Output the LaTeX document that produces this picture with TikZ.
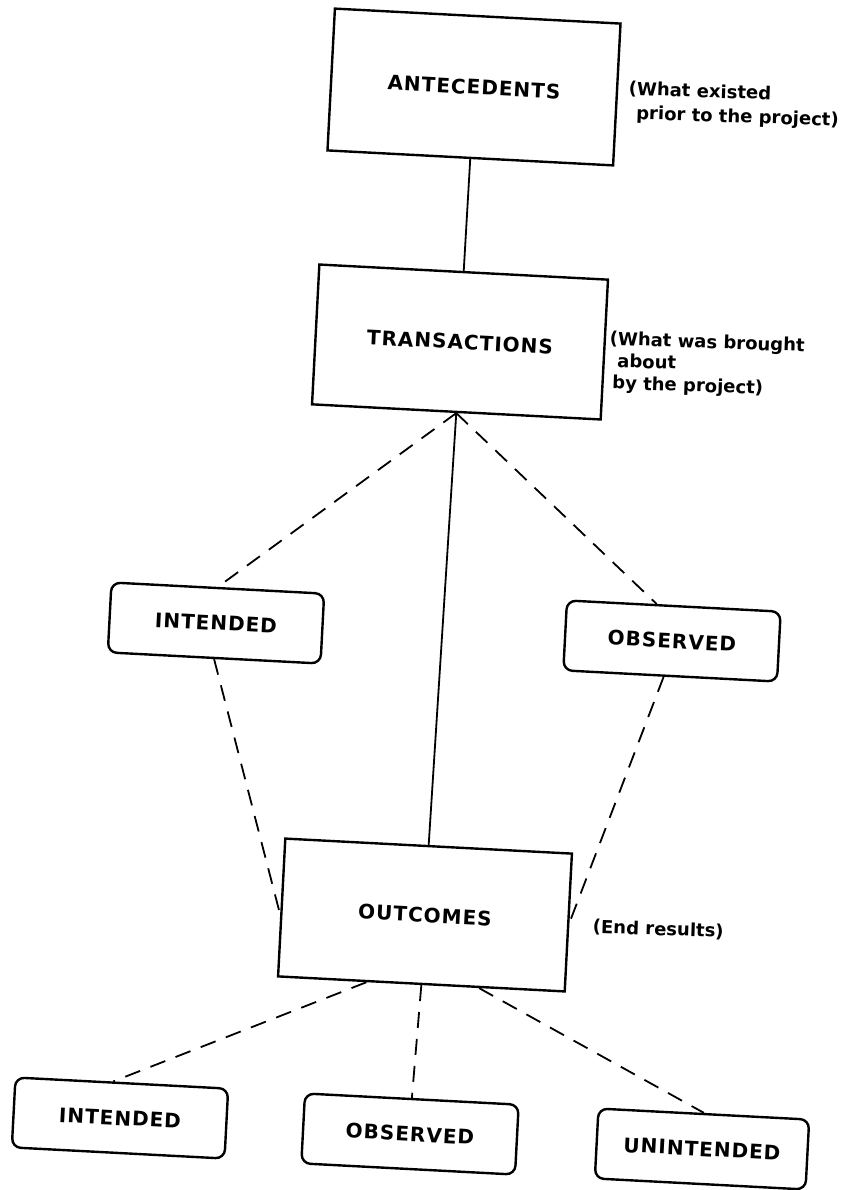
\documentclass[tikz,border=0pt]{standalone}
\usepackage{fontspec}
\setmainfont{DejaVu Sans}
\newfontfamily\boxfont[LetterSpace=5]{DejaVu Sans Bold}
\newfontfamily\notefont{DejaVu Sans Bold}
\usetikzlibrary{calc}
\begin{document}
\begin{tikzpicture}[x=1pt,y=-1pt,
  sqbox/.style={draw, line width=2.4pt, rotate=-3, inner sep=0pt,
    font=\boxfont\fontsize{20}{24}\selectfont},
  rbox/.style={sqbox, rounded corners=9pt, minimum height=70pt},
  dashline/.style={line width=1.8pt, dash pattern=on 16pt off 11pt},
  solidline/.style={line width=1.8pt},
  note/.style={anchor=north west, rotate=-2, inner sep=0pt, align=left}]
\fill[white] (0,0) rectangle (846,1190);
\useasboundingbox (0,0) rectangle (846,1190);

% main boxes
\node[sqbox, minimum width=286pt, minimum height=142pt] (ante) at (474,87) {ANTECEDENTS};
\node[sqbox, minimum width=289pt, minimum height=140pt] (trans) at (460,342) {TRANSACTIONS};
\node[sqbox, minimum width=287pt, minimum height=138pt] (outc) at (425,915) {OUTCOMES};

% middle rounded boxes
\node[rbox, minimum width=213pt] (intA) at (216,623) {INTENDED};
\node[rbox, minimum width=214pt] (obsA) at (672,641) {OBSERVED};

% bottom rounded boxes
\node[rbox, minimum width=213pt] (intB) at (120,1118) {INTENDED};
\node[rbox, minimum width=214pt] (obsB) at (410,1134) {OBSERVED};
\node[rbox, minimum width=211pt] (unint) at (702,1149) {UNINTENDED};

% side notes
\node[note, font=\notefont\fontsize{18}{24}\selectfont] (anteN) at (629,81)
  {(What existed\\\hphantom{(}prior to the project)};
\node[note, font=\notefont\fontsize{18}{22}\selectfont] (transN) at (610,331)
  {(What was brought\\\hphantom{(}about\\\hspace{4pt}by the project)};
\node[note, font=\notefont\fontsize{18}{22}\selectfont] (outcN) at (593,919)
  {(End results)};

% connectors
\draw[solidline] (ante.south) -- (trans.north);
\draw[solidline] (trans.south) -- (outc.north);
\draw[dashline] (trans.south) -- (intA.north);
\draw[dashline] (trans.south) -- ($(obsA.north west)!0.42!(obsA.north east)$);
\draw[dashline] (intA.south) -- ($(outc.north west)!0.55!(outc.south west)$);
\draw[dashline] ($(obsA.south west)!0.47!(obsA.south east)$) -- (outc.east);
\draw[dashline] ($(outc.south west)!0.31!(outc.south east)$) -- ($(intB.north west)!0.46!(intB.north east)$);
\draw[dashline] (outc.south) -- (obsB.north);
\draw[dashline] ($(outc.south west)!0.70!(outc.south east)$) -- (unint.north);
\end{tikzpicture}
\end{document}
